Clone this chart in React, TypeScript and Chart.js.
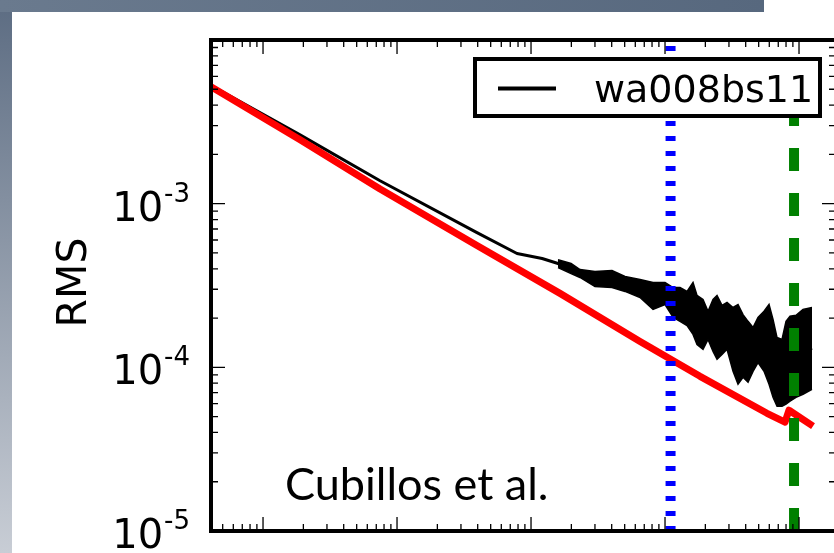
import React, { useEffect, useRef } from "react";
import { Chart, registerables } from "chart.js";

Chart.register(...registerables);

// ---- data ----
const seriesLabel = "wa008bs11";
const yAxisLabel = "RMS";
const annotationText = "Cubillos et al.";

// measured rms vs bin size (black)
const binSize = [0.004, 0.0189, 0.0747, 0.395, 0.786, 1.21, 1.59, 1.99, 2.32, 3.0, 4.02, 5.03, 6.51, 8.14, 10.0, 11.5, 13.6, 16.2, 18.3, 20.9, 23.6, 28.0, 34.5, 40.9, 48.6, 53.9, 60.8, 66.2, 76.0, 85.7, 102, 125];
const rmsValues = [5.32e-3, 2.63e-3, 1.38e-3, 6.66e-4, 4.96e-4, 4.62e-4, 4.31e-4, 4.02e-4, 3.74e-4, 3.46e-4, 3.46e-4, 3.23e-4, 3.03e-4, 2.73e-4, 2.83e-4, 2.49e-4, 2.39e-4, 2.29e-4, 1.87e-4, 1.8e-4, 1.73e-4, 1.74e-4, 1.36e-4, 1.26e-4, 1.36e-4, 1.38e-4, 1.38e-4, 9.6e-5, 9.3e-5, 1.12e-4, 1.22e-4, 1.31e-4];

// error-bar envelope of the measured rms
const errBin = [1.59, 1.99, 2.32, 3.0, 4.02, 5.03, 6.51, 8.14, 10.0, 11.5, 12.94, 14.6, 16.18, 17.33, 19.21, 20.94, 22.82, 24.44, 26.63, 29.02, 32.18, 35.06, 38.21, 41.64, 45.37, 49.43, 54.82, 59.73, 63.97, 68.54, 74.67, 79.98, 85.68, 94.98, 107.1, 125];
const rmsHigh = [4.55e-4, 4.31e-4, 3.96e-4, 3.85e-4, 3.9e-4, 3.59e-4, 3.44e-4, 3.3e-4, 3.3e-4, 3.07e-4, 3.07e-4, 2.91e-4, 3.3e-4, 2.75e-4, 2.6e-4, 2.2e-4, 2.6e-4, 2.75e-4, 2.39e-4, 2.49e-4, 2.32e-4, 2.42e-4, 2.1e-4, 1.91e-4, 1.75e-4, 2.02e-4, 2.2e-4, 2.42e-4, 1.96e-4, 1.52e-4, 1.48e-4, 1.91e-4, 2.05e-4, 2.08e-4, 2.26e-4, 2.32e-4];
const rmsLow = [4.07e-4, 3.74e-4, 3.54e-4, 3.12e-4, 3.07e-4, 2.91e-4, 2.67e-4, 2.26e-4, 2.42e-4, 2.02e-4, 1.91e-4, 1.8e-4, 1.59e-4, 1.38e-4, 1.29e-4, 1.48e-4, 1.25e-4, 1.12e-4, 1.2e-4, 1.29e-4, 9.45e-5, 7.88e-5, 8.69e-5, 8.1e-5, 9.45e-5, 1.07e-4, 9.45e-5, 7.88e-5, 6.56e-5, 5.78e-5, 5.78e-5, 5.95e-5, 6.21e-5, 6.56e-5, 6.85e-5, 7.34e-5];

// expected white-noise rms (red)
const expBin = [0.004, 0.0189, 0.0747, 0.395, 1.645, 6.51, 18.25, 57.7, 78.6, 84.2, 127.2];
const expRms = [5.24e-3, 2.46e-3, 1.23e-3, 5.55e-4, 2.83e-4, 1.44e-4, 8.81e-5, 5.24e-5, 4.62e-5, 5.47e-5, 4.37e-5];

// vertical markers
const ingressBin = 11.0; // blue dotted
const durationBin = 91.8; // green dashed

// axis ranges and ticks
const xMin = 0.00409;
const xMax = 188.8;
const yMin = 1e-5;
const yMax = 1e-2;
const xDecades = [0.001, 0.01, 0.1, 1, 10, 100];
const yDecades = [1e-5, 1e-4, 1e-3];
const yTickValues = [1e-5, 1e-4, 1e-3];
const yTickBase = ["10", "10", "10"];
const yTickExponent = ["-5", "-4", "-3"];

const pts = (xs: number[], ys: number[]) => xs.map((x, i) => ({ x, y: ys[i] }));

const mplPlugin = {
  id: "mplDecor",
  afterDatasetsDraw(chart: any) {
    const { ctx, chartArea: a, scales } = chart;
    const xs = scales.x;
    const ys = scales.y;
    ctx.save();
    ctx.strokeStyle = "#000";
    ctx.lineWidth = 1.3;
    const majorLen = 14;
    const minorLen = 7;
    const xTick = (v: number, len: number) => {
      const p = xs.getPixelForValue(v);
      if (p < a.left - 0.5 || p > a.right + 0.5) return;
      ctx.beginPath();
      ctx.moveTo(p, a.bottom);
      ctx.lineTo(p, a.bottom - len);
      ctx.moveTo(p, a.top);
      ctx.lineTo(p, a.top + len);
      ctx.stroke();
    };
    const yTick = (v: number, len: number) => {
      const p = ys.getPixelForValue(v);
      if (p < a.top - 0.5 || p > a.bottom + 0.5) return;
      ctx.beginPath();
      ctx.moveTo(a.left, p);
      ctx.lineTo(a.left + len, p);
      ctx.moveTo(a.right, p);
      ctx.lineTo(a.right - len, p);
      ctx.stroke();
    };
    xDecades.forEach((d) => {
      xTick(d, majorLen);
      for (let m = 2; m <= 9; m++) xTick(d * m, minorLen);
    });
    yDecades.forEach((d) => {
      yTick(d, majorLen);
      for (let m = 2; m <= 9; m++) yTick(d * m, minorLen);
    });
    yTick(yMax, majorLen);
    ctx.lineWidth = 4;
    ctx.strokeRect(a.left, a.top, a.right - a.left, a.bottom - a.top);
    ctx.restore();
  },
  afterDraw(chart: any) {
    const { ctx, chartArea: a, scales } = chart;
    const ys = scales.y;
    ctx.save();
    ctx.fillStyle = "#000";

    // y tick labels with superscript exponents
    yTickValues.forEach((v, i) => {
      const p = ys.getPixelForValue(v);
      ctx.font = "40px 'DejaVu Sans'";
      const wBase = ctx.measureText(yTickBase[i]).width;
      ctx.font = "26px 'DejaVu Sans'";
      const wExp = ctx.measureText(yTickExponent[i]).width;
      const right = a.left - 22;
      const start = right - wBase - wExp;
      ctx.textAlign = "left";
      ctx.textBaseline = "alphabetic";
      ctx.font = "40px 'DejaVu Sans'";
      ctx.fillText(yTickBase[i], start, p + 17);
      ctx.font = "26px 'DejaVu Sans'";
      ctx.fillText(yTickExponent[i], start + wBase + 1, p - 2);
    });

    // y axis label
    ctx.save();
    ctx.translate(86, (a.top + a.bottom) / 2 - 3);
    ctx.rotate(-Math.PI / 2);
    ctx.font = "41px 'DejaVu Sans'";
    ctx.textAlign = "center";
    ctx.textBaseline = "alphabetic";
    ctx.fillText(yAxisLabel, 0, 0);
    ctx.restore();

    // legend
    const lx = 475;
    const ly = 59;
    const lw = 345;
    const lh = 57;
    ctx.fillStyle = "#fff";
    ctx.fillRect(lx, ly, lw, lh);
    ctx.strokeStyle = "#000";
    ctx.lineWidth = 4;
    ctx.strokeRect(lx, ly, lw, lh);
    ctx.lineWidth = 4;
    ctx.beginPath();
    ctx.moveTo(498, 88.5);
    ctx.lineTo(556, 88.5);
    ctx.stroke();
    ctx.fillStyle = "#000";
    ctx.font = "38px 'DejaVu Sans'";
    ctx.textAlign = "left";
    ctx.fillText(seriesLabel, 594, 102);

    // annotation
    ctx.font = "45px Lato";
    ctx.fillText(annotationText, 285, 500);
    ctx.restore();
  },
};

export default function App() {
  const ref = useRef<HTMLCanvasElement | null>(null);
  useEffect(() => {
    if (!ref.current) return;
    const chart = new Chart(ref.current, {
      type: "line",
      data: {
        datasets: [
          {
            label: "duration",
            data: [
              { x: durationBin, y: yMin },
              { x: durationBin, y: yMax },
            ],
            borderColor: "#008000",
            borderWidth: 10,
            borderDash: [23, 22],
            pointRadius: 0,
            clip: 0,
          },
          {
            label: "ingress",
            data: [
              { x: ingressBin, y: yMin },
              { x: ingressBin, y: yMax },
            ],
            borderColor: "#0000ff",
            borderWidth: 10,
            borderDash: [5, 10],
            pointRadius: 0,
            clip: 0,
          },
          {
            label: "expected",
            data: pts(expBin, expRms),
            borderColor: "#ff0000",
            borderWidth: 7,
            borderJoinStyle: "round",
            pointRadius: 0,
            clip: 0,
          },
          {
            label: seriesLabel,
            data: pts(binSize, rmsValues),
            borderColor: "#000",
            borderWidth: 3,
            borderJoinStyle: "round",
            pointRadius: 0,
            clip: 0,
          },
          {
            label: "rms high",
            data: pts(errBin, rmsHigh),
            borderColor: "#000",
            borderWidth: 1.5,
            backgroundColor: "#000",
            fill: "+1",
            pointRadius: 0,
            clip: 0,
          },
          {
            label: "rms low",
            data: pts(errBin, rmsLow),
            borderColor: "#000",
            borderWidth: 1.5,
            pointRadius: 0,
            clip: 0,
          },
        ] as any,
      },
      options: {
        responsive: false,
        animation: false,
        devicePixelRatio: 1,
        layout: { padding: { left: 211, top: 40, right: 24, bottom: 22 } },
        plugins: { legend: { display: false }, tooltip: { enabled: false } },
        scales: {
          x: { type: "logarithmic", min: xMin, max: xMax, display: false },
          y: { type: "logarithmic", min: yMin, max: yMax, display: false },
        },
      } as any,
      plugins: [mplPlugin],
    });
    return () => chart.destroy();
  }, []);

  return (
    <div
      style={{
        position: "fixed",
        left: 0,
        top: 0,
        width: 834,
        height: 553,
        overflow: "hidden",
        background: "#fff",
      }}
    >
      <div
        style={{
          position: "absolute",
          left: 0,
          top: 0,
          width: 12,
          height: 553,
          background: "linear-gradient(to bottom, #5c6c82, #c8cdd5)",
        }}
      />
      <div
        style={{
          position: "absolute",
          left: 0,
          top: 0,
          width: 764,
          height: 12,
          background: "linear-gradient(to right, #6a7a8e, #57687e)",
        }}
      />
      <canvas
        ref={ref}
        width={860}
        height={553}
        style={{ position: "absolute", left: 0, top: 0, width: 860, height: 553 }}
      />
    </div>
  );
}
